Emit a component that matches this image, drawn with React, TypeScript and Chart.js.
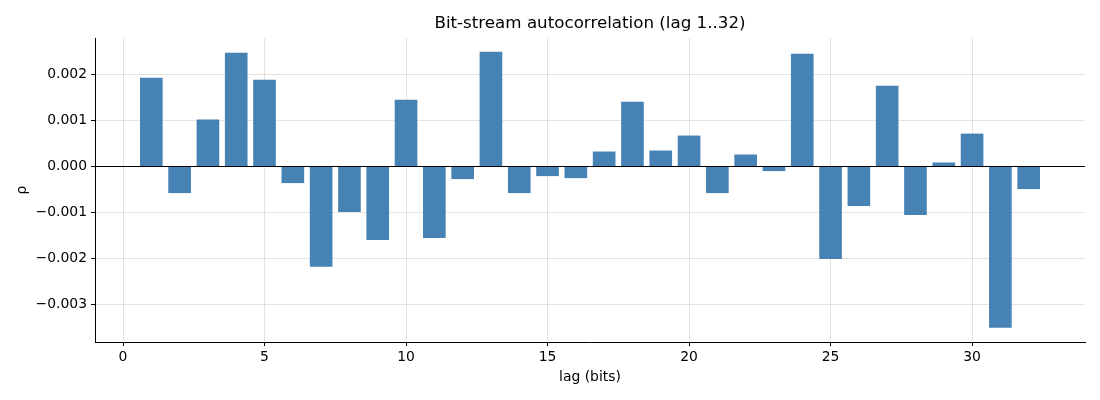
import { useEffect, useRef } from "react";
import { Chart, registerables, ChartConfiguration } from "chart.js";

Chart.register(...registerables);

const lags = [
  1, 2, 3, 4, 5, 6, 7, 8, 9, 10, 11, 12, 13, 14, 15, 16,
  17, 18, 19, 20, 21, 22, 23, 24, 25, 26, 27, 28, 29, 30, 31, 32,
];
const rho = [
  0.001935, -0.00058, 0.001022, 0.002478, 0.001891, -0.000362, -0.002188, -0.000993,
  -0.001601, 0.001457, -0.001558, -0.000275, 0.0025, -0.00058, -0.00021, -0.000254,
  0.000326, 0.001413, 0.000348, 0.000674, -0.00058, 0.000261, -0.000101, 0.002457,
  -0.002014, -0.000862, 0.001761, -0.001058, 0.000087, 0.000717, -0.003514, -0.000493,
];
const xTicks = [0, 5, 10, 15, 20, 25, 30];
const yTicks = [-0.003, -0.002, -0.001, 0, 0.001, 0.002];

const FONT = "'DejaVu Sans', sans-serif";
const GRID = "rgba(176,176,176,0.35)";

const App: React.FC = () => {
  const chartRef = useRef<HTMLCanvasElement>(null);

  useEffect(() => {
    document.body.style.margin = "0";
    if (!chartRef.current) return;
    const ctx = chartRef.current.getContext("2d");
    if (!ctx) return;

    const config: ChartConfiguration<"bar"> = {
      type: "bar",
      data: {
        datasets: [{
          data: lags.map((l, i) => ({ x: l, y: rho[i] })),
          backgroundColor: "#4682b4",
          borderWidth: 0,
          barPercentage: 0.8,
          categoryPercentage: 1.0,
        }],
      },
      options: {
        responsive: false,
        animation: false,
        layout: { padding: { left: 0, right: 15, top: 0, bottom: 0 } },
        plugins: {
          legend: { display: false },
          tooltip: { enabled: false },
          title: {
            display: true,
            fullSize: false,
            text: "Bit-stream autocorrelation (lag 1..32)",
            color: "#000",
            font: { family: FONT, size: 16.7, weight: "normal" },
            padding: { top: 14, bottom: 4 },
          },
        },
        scales: {
          x: {
            type: "linear",
            min: -0.99,
            max: 33.99,
            offset: false,
            z: 1,
            afterBuildTicks: (scale) => {
              scale.ticks = xTicks.map((v) => ({ value: v }));
            },
            afterFit: (scale) => { scale.height = 58; },
            ticks: {
              color: "#000",
              font: { family: FONT, size: 13.9 },
              padding: 3,
              maxRotation: 0,
              callback: (v) => String(v),
            },
            grid: { offset: false, color: GRID, tickColor: "#000", tickLength: 4 },
            border: { display: true, color: "#000", width: 1 },
            title: {
              display: true,
              text: "lag (bits)",
              color: "#000",
              font: { family: FONT, size: 13.9 },
              padding: { top: 0, bottom: 14 },
            },
          },
          y: {
            min: -0.003826,
            max: 0.0028,
            z: 1,
            afterBuildTicks: (scale) => {
              scale.ticks = yTicks.map((v) => ({ value: v }));
            },
            afterFit: (scale) => { scale.width = 95; },
            ticks: {
              color: "#000",
              font: { family: FONT, size: 13.9 },
              padding: 4,
              callback: (v) => {
                const n = Number(v);
                const s = Math.abs(n).toFixed(3);
                return n < -1e-9 ? "\u2212" + s : s;
              },
            },
            grid: {
              color: (c) => (Math.abs(c.tick?.value ?? 1) < 1e-9 ? "#000" : GRID),
              tickColor: "#000",
              tickLength: 4,
            },
            border: { display: true, color: "#000", width: 1 },
            title: {
              display: true,
              text: "ρ",
              color: "#000",
              font: { family: FONT, size: 13.9 },
              padding: { top: 14, bottom: 0 },
            },
          },
        },
      },
    };

    const chart = new Chart(ctx, config);
    return () => {
      chart.destroy();
    };
  }, []);

  return (
    <div style={{ width: 1100, height: 400 }}>
      <canvas ref={chartRef} width={1100} height={400} />
    </div>
  );
};

export default App;
